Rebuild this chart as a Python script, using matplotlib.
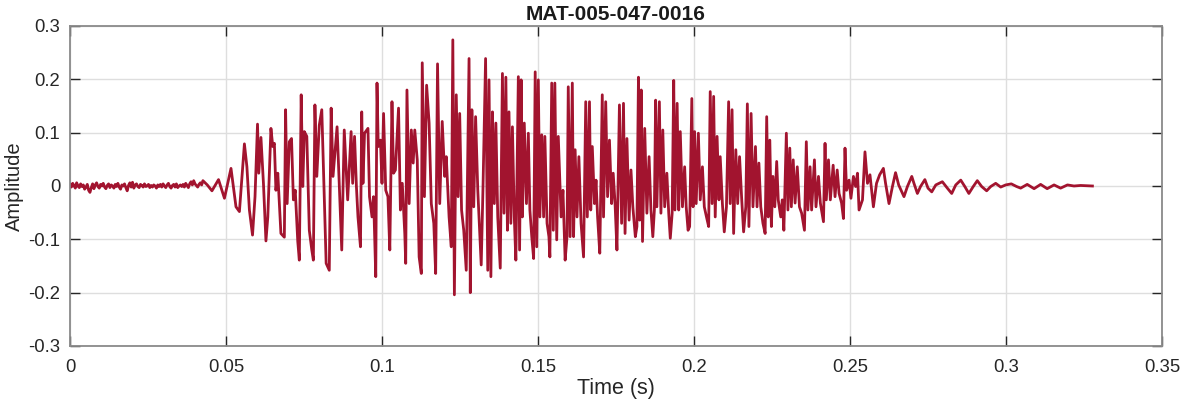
import numpy as np
import matplotlib
matplotlib.use('Agg')
import matplotlib.pyplot as plt

## 数据：语音波形（时间 ms，幅度）
# 开头的背景噪声（千分之一单位）
noise_milli = [3, -2, 5, 1, -4, 6, 0, -3, 4, -1, 2, -6, -2, 3, -8, -12, -3, 4, -5, 2,
               6, -1, -4, 3, 0, 5, -2, -5, 1, 4, -3, 2, 0, -4, 3, -1, 5, -2, -6, 2,
               0, 4, -3, -9, 1, 6, -2, 7, -4, 2, 4, -1, -3, 3, 1, -2, 4, -1, 0, 3,
               -3, 1, -2, 2, 0, -4, 2, -1, 3, -2, 4, 0, -3, 2, 5, -1, -4, 1, 3, -2,
               4, -3, 0, 2, -1, 3, -2, 5, 1, -3, 4, 8, 2, 10, 4, 1, -2, 3, 6, 2]
noise_end_ms = 42.2

# 浊音段（时间 ms）
voiced_t = [42.6, 44.0, 45.5, 47.6, 49.5, 51.6, 53.2, 54.3, 55.9, 56.7, 57.5, 58.5, 59.3,
            60.1, 60.5, 61.2, 62.0, 62.8, 63.4, 64.4, 65.0, 65.5, 66.0, 66.6, 67.6, 68.7,
            69.1, 69.6, 70.3, 71.0, 71.6, 72.2, 73.0, 73.5, 74.1, 74.6, 75.1, 75.9, 76.7,
            77.5, 78.0, 78.5, 79.1, 79.9, 80.7, 81.3, 82.1, 83.1, 83.7, 84.3, 85.6, 86.3,
            87.1, 87.9, 89.0, 90.1,
            90.6, 91.2, 91.8, 92.3, 93.1, 93.5, 93.9, 94.4, 95.5, 96.0, 96.8, 97.3, 98.0,
            98.4, 98.8, 99.5, 100.0, 100.5, 101.2, 101.9, 102.5, 103.2, 103.7, 104.3, 105.3,
            105.9, 106.5, 107.3, 107.6, 108.0, 108.7, 109.4, 110.0, 110.5, 111.3, 111.9,
            112.6, 112.9, 113.6, 114.3, 115.1, 115.8, 116.6, 117.2, 117.8, 118.5, 119.3,
            120.1, 120.6, 121.5, 122.2, 122.7, 123.2, 123.8, 124.4, 124.9, 125.5, 126.2,
            127.0, 127.9, 128.3, 128.8, 129.4, 130.0, 130.7, 131.3, 131.8, 132.4, 133.2,
            133.9, 134.3, 134.9, 135.4, 136.0, 136.5, 137.1, 137.5, 137.9, 138.6, 139.1,
            139.7, 140.2, 140.7, 141.3, 141.8, 142.4, 142.9, 143.7, 144.1, 144.6, 145.0,
            145.6, 146.3, 146.9, 147.4, 148.0, 148.6, 149.1, 149.6, 150.1, 150.6, 151.2,
            151.8, 152.2, 152.9, 153.5, 153.8, 154.4, 154.9, 155.4, 156.0, 156.5, 157.4,
            158.0, 158.7, 159.3, 159.7, 160.3, 161.0, 161.4, 161.9, 162.5, 163.1, 163.8,
            164.6, 165.3, 165.8, 166.5, 166.9, 167.4, 168.1, 168.6, 169.1, 169.8, 170.6,
            171.0, 171.7, 172.3, 172.9, 173.6, 174.1, 174.7, 175.3, 176.1, 176.8, 177.4,
            177.9, 178.5, 179.2, 179.8, 180.4, 181.2, 181.7, 182.2, 182.6, 183.1, 183.5,
            184.2, 184.9, 185.6, 186.2, 186.8, 187.3, 187.7, 188.1, 188.9, 189.4, 190.0,
            190.6, 191.3, 191.9, 192.4, 193.0, 193.5, 193.9, 194.6, 195.1, 195.6, 196.3,
            197.0, 197.5, 198.1, 198.6, 199.3, 199.7, 200.2, 200.7, 201.4, 202.0, 202.7,
            203.3, 204.0, 204.7, 205.2, 205.8, 206.3, 206.8, 207.4, 208.0, 208.4, 209.1,
            209.7, 210.4, 211.1, 211.6, 212.2, 212.7, 213.4, 214.0, 214.6, 215.3, 215.9,
            216.6, 217.1, 217.6, 218.3, 218.9, 219.7, 220.2, 220.8]
voiced_a = [0.010, 0.002, -0.009, 0.012, -0.023, 0.033, -0.039, -0.048, 0.079, 0.036, -0.045, -0.092, -0.020,
            0.116, 0.024, 0.091, 0.005, -0.103, -0.058, 0.108, 0.074, 0.080, -0.008, 0.024, -0.089, -0.096,
            0.143, -0.033, 0.083, 0.089, -0.026, -0.008, -0.104, -0.139, 0.171, -0.001, 0.102, 0.093, -0.083,
            -0.120, -0.139, 0.152, 0.018, 0.114, 0.143, 0.018, -0.145, -0.158, 0.146, 0.018, 0.111, 0.005,
            -0.120, 0.105, -0.026, 0.102,
            0.005, 0.093, -0.001, -0.058, -0.114, 0.139, 0.005, 0.099, 0.108, -0.020, -0.058, -0.020, -0.170,
            0.193, 0.074, 0.086, 0.005, 0.136, -0.008, -0.020, -0.120, 0.158, 0.024, 0.030, 0.146,
            -0.045, 0.005, -0.089, -0.145, 0.180, -0.033, 0.105, 0.043, 0.105, 0.049, -0.133,
            -0.164, 0.231, -0.020, 0.189, 0.118, -0.033, -0.070, -0.164, 0.229, -0.033, 0.121,
            0.018, 0.055, -0.058, -0.114, 0.274, -0.204, 0.171, -0.020, 0.136, -0.045, -0.083,
            -0.158, 0.239, -0.200, 0.143, -0.039, 0.130, -0.008, -0.083, -0.148, 0.005, 0.239,
            -0.158, 0.199, -0.170, 0.139, -0.033, 0.118, -0.058, -0.108, -0.154, 0.211, -0.051,
            0.204, -0.083, 0.139, -0.070, 0.111, -0.058, -0.139, 0.205, -0.120, 0.199, -0.058,
            0.118, -0.033, 0.099, -0.045, -0.095, -0.136, 0.214, -0.114, 0.199, -0.058, 0.096,
            -0.058, 0.093, -0.070, -0.095, -0.133, 0.193, -0.083, 0.193, -0.101, 0.093, -0.058,
            -0.008, -0.139, -0.095, 0.186, -0.095, 0.193, -0.095, 0.068, -0.058, 0.055, -0.070,
            -0.133, 0.158, -0.058, 0.158, -0.045, 0.074, -0.033, 0.011, -0.058, -0.126, 0.171,
            -0.058, 0.158, -0.020, 0.086, -0.033, 0.024, -0.033, -0.120, 0.152, -0.070, 0.155,
            -0.089, 0.089, -0.064, 0.030, -0.039, -0.095, -0.076, 0.204, -0.064, 0.180, -0.104,
            0.108, -0.051, 0.055, -0.045, -0.095, -0.045, 0.161, -0.039, 0.158, -0.051, 0.105,
            -0.039, 0.024, -0.051, -0.098, -0.051, 0.198, -0.045, 0.155, -0.045, 0.102, -0.039,
            0.036, -0.039, -0.083, -0.076, 0.164, -0.039, 0.102, -0.033, 0.099, -0.026, 0.036,
            -0.039, -0.058, -0.076, 0.177, -0.033, 0.168, -0.058, 0.093, -0.026, 0.055, -0.033,
            -0.086, -0.039, 0.158, -0.033, 0.143, -0.089, 0.068, -0.033, 0.055, -0.026, -0.086,
            -0.039, 0.154, -0.076, 0.136, -0.039, 0.074, -0.039, 0.043]

# 衰减段与结尾
decay_t = [221.4, 222.1, 222.8, 223.3, 223.8, 224.3, 224.8, 225.3, 225.9, 226.5, 227.0, 227.8,
           228.3, 228.8, 229.6, 230.1, 230.7, 231.2, 231.8, 232.4, 233.1, 233.8, 234.5, 235.4,
           236.0, 236.5, 237.2, 237.7, 238.6, 239.1, 239.9, 240.5, 241.5, 242.0, 242.4, 243.1,
           243.7, 244.6, 245.2, 245.9, 246.5, 247.3, 247.9, 248.4, 248.9, 249.7, 250.3, 251.1,
           251.8, 252.4, 252.9, 254.0, 254.8, 255.6, 256.4, 257.5, 258.5, 259.5, 260.7,
           261.4, 262.5, 263.6, 264.6, 265.6, 267.3, 268.4, 269.8, 270.5, 271.6, 272.6, 274.0,
           275.0, 276.2, 277.5, 279.6, 281.2, 282.6, 283.9, 285.5, 286.8, 288.1, 289.5, 290.8,
           292.2, 293.8, 295.1, 296.7, 298.3, 299.9, 301.7, 303.4, 304.7, 306.8, 309.0, 311.1,
           313.2, 315.4, 317.5, 319.7, 321.8, 323.9, 327.7]
decay_a = [-0.039, -0.070, -0.089, 0.130, -0.058, 0.086, -0.076, 0.018, -0.039, 0.046, -0.026, -0.058,
           -0.026, -0.083, 0.099, -0.045, 0.071, -0.039, 0.049, -0.032, 0.036, -0.039, -0.051, -0.083,
           0.083, -0.045, 0.036, -0.045, 0.049, -0.039, 0.018, -0.032, -0.067, 0.080, -0.026, 0.049,
           -0.026, 0.039, -0.020, 0.030, -0.014, -0.032, -0.061, 0.071, -0.008, 0.011, -0.023, 0.018,
           -0.001, 0.024, -0.045, -0.026, 0.064, 0.005, 0.021, -0.039, 0.005, 0.021, 0.033,
           0.005, -0.033, -0.001, 0.025, 0.002, -0.020, -0.001, 0.018, 0.005, -0.014, -0.001, 0.012,
           -0.004, -0.011, 0.002, 0.008, -0.004, -0.014, 0.002, 0.011, -0.001, -0.014, -0.001, 0.010,
           -0.001, -0.009, -0.001, 0.005, -0.002, 0.002, 0.004, -0.001, -0.004, 0.003, -0.005, 0.003,
           -0.005, 0.002, -0.004, 0.002, 0.000, 0.001, 0.000]

## 拼接
noise_t = np.linspace(0, noise_end_ms, len(noise_milli))
t = np.concatenate([noise_t, voiced_t, decay_t]) / 1000.0
y = np.concatenate([np.array(noise_milli) / 1000.0, voiced_a, decay_a])

## 绘图（MATLAB 风格）
plt.rcParams['font.family'] = ['Liberation Sans', 'DejaVu Sans']
plt.rcParams['axes.unicode_minus'] = False

fig = plt.figure(figsize=(11.82, 4.04), dpi=100)
ax = fig.add_axes([70 / 1182, 58 / 404, 1092 / 1182, 320 / 404])
ax.plot(t, y, color='#A2142F', linewidth=2.0, solid_joinstyle='round')

ax.set_xlim(0, 0.35)
ax.set_ylim(-0.3, 0.3)
ax.set_xticks([0, 0.05, 0.1, 0.15, 0.2, 0.25, 0.3, 0.35])
ax.set_xticklabels(['0', '0.05', '0.1', '0.15', '0.2', '0.25', '0.3', '0.35'])
ax.set_yticks([-0.3, -0.2, -0.1, 0, 0.1, 0.2, 0.3])
ax.set_yticklabels(['-0.3', '-0.2', '-0.1', '0', '0.1', '0.2', '0.3'])

ax.grid(True, color='#dedede', linewidth=1)
ax.set_axisbelow(True)
ax.tick_params(direction='in', length=7, width=1, colors='#262626', labelsize=13.3,
               top=True, right=True)
ax.tick_params(axis='x', pad=9)
ax.tick_params(axis='y', pad=7)
for s in ax.spines.values():
    s.set_color('#8a8a8a')
    s.set_linewidth(1.3)

ax.set_title('MAT-005-047-0016', fontsize=15, fontweight='bold', color='#1a1a1a', pad=4)
ax.set_xlabel('Time (s)', fontsize=15.5, color='#262626', labelpad=2)
ax.set_ylabel('Amplitude', fontsize=14.5, color='#262626', labelpad=3)

plt.savefig('out.png', dpi=100)
